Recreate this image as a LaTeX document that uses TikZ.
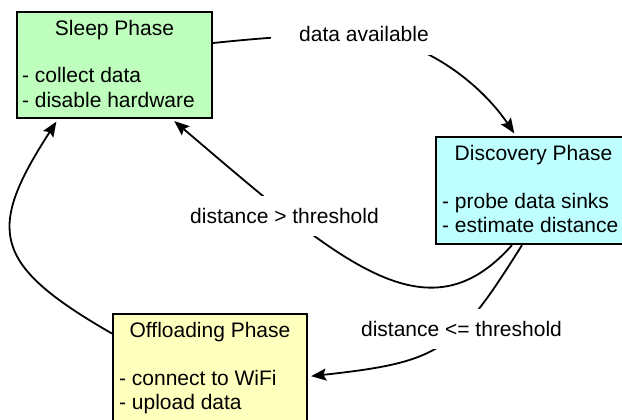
\documentclass[tikz,border=0pt]{standalone}
\usepackage{fontspec}
\setmainfont{Liberation Sans}
\usetikzlibrary{arrows.meta}

\definecolor{sleepfill}{RGB}{190,255,190}
\definecolor{discfill}{RGB}{190,255,255}
\definecolor{offfill}{RGB}{255,255,190}

\tikzset{
  phase/.style={draw=black, line width=2.2pt, minimum width=195pt, minimum height=106pt, inner sep=0pt},
  txt/.style={inner sep=0pt, font=\fontsize{21}{24.5}\selectfont},
  title/.style={txt, anchor=base},
  item/.style={txt, anchor=base west},
  flow/.style={line width=1.8pt, -{Stealth[length=15pt,width=12pt,inset=2.5pt]}, shorten >=3pt},
  edgelabel/.style={fill=white, inner xsep=28pt, inner ysep=10pt, text height=17pt, text depth=3pt,
                    anchor=base, font=\fontsize{21}{24.5}\selectfont}
}

\begin{document}
\begin{tikzpicture}[x=1pt,y=-1pt]
  \useasboundingbox (0,0) rectangle (622,420);

  % the three phases
  \node[phase, fill=sleepfill] (sleep) at (114.5,65) {};
  \node[phase, fill=discfill, minimum height=107pt] (disc) at (533.5,190.5) {};
  \node[phase, fill=offfill, minimum width=194pt, minimum height=107pt] (off) at (210,367.5) {};

  % box texts
  \node[title] (sleepT) at ([yshift=-24.5pt]sleep.north) {Sleep Phase};
  \node[item] (sleepA) at ([xshift=6pt,yshift=-72pt]sleep.north west) {- collect data};
  \node[item] (sleepB) at ([xshift=6pt,yshift=-96.5pt]sleep.north west) {- disable hardware};

  \node[title] (discT) at ([yshift=-24.5pt]disc.north) {Discovery Phase};
  \node[item] (discA) at ([xshift=7pt,yshift=-73pt]disc.north west) {- probe data sinks};
  \node[item] (discB) at ([xshift=7pt,yshift=-96.5pt]disc.north west) {- estimate distance};

  \node[title] (offT) at ([yshift=-24.5pt]off.north) {Offloading Phase};
  \node[item] (offA) at ([xshift=7pt,yshift=-73pt]off.north west) {- connect to WiFi};
  \node[item] (offB) at ([xshift=7pt,yshift=-97pt]off.north west) {- upload data};

  % transitions
  \draw[flow] ([yshift=22pt]sleep.east)
      .. controls (290,35) and (350,32) .. (390,40)
      .. controls (440,52) and (485,90) .. ([xshift=-17.5pt]disc.north);
  \draw[flow] ([xshift=-21.5pt]disc.south)
      .. controls (427,341) and (341,263) .. ([xshift=57.5pt]sleep.south);
  \draw[flow] ([xshift=-11.5pt]disc.south)
      .. controls (455,352) and (440,362) .. ([yshift=-9pt]off.east);
  \draw[flow] ([yshift=34pt]off.west)
      .. controls (-9,264) and (-13.5,230) .. ([xshift=-56.5pt]sleep.south);

  % transition labels
  \node[edgelabel] (labAvail) at (364,42) {data available};
  \node[edgelabel] (labFar) at (284.5,223) {distance > threshold};
  \node[edgelabel] (labNear) at (461.5,336) {distance <= threshold};
\end{tikzpicture}
\end{document}
